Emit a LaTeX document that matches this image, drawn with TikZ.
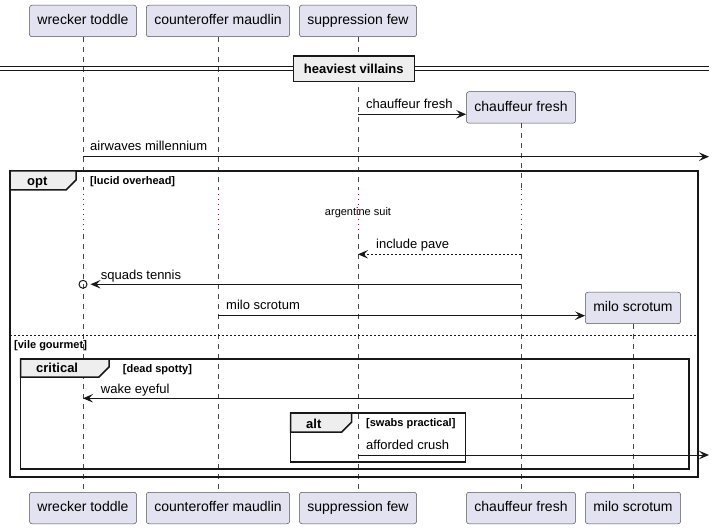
\documentclass[tikz,border=0pt]{standalone}
\usepackage{fontspec}
\setmainfont{Liberation Sans}
\usepackage{tikz}
\usepackage{xcolor}
\usetikzlibrary{arrows.meta,positioning,calc}

\definecolor{partfill}{HTML}{E2E2F0}
\definecolor{ink}{HTML}{181818}
\definecolor{tabfill}{HTML}{EEEEEE}
\definecolor{delayred}{HTML}{8B0A3A}

\begin{document}
\begin{tikzpicture}[
      x=1pt, y=-1pt,
      partbox/.style={rectangle, draw=ink!75, line width=0.5pt, fill=partfill, rounded corners=2.5pt, inner xsep=8pt, minimum height=31.5pt, text height=10.5pt, text depth=3pt, font=\fontsize{14}{16}\selectfont},
      lifeline/.style={draw=ink!80, line width=0.5pt, dash pattern=on 5pt off 5pt},
      delayline/.style={draw=delayred, line width=1pt, dash pattern=on 1pt off 4pt},
      msg/.style={-{Stealth[length=10pt,width=8.5pt,inset=4pt]}, draw=ink, line width=1pt},
      reply/.style={msg, dash pattern=on 2pt off 2pt},
      msglabel/.style={font=\fontsize{13}{15}\selectfont, inner sep=0pt},
      framebox/.style={draw=ink, line width=1.5pt},
      tabshape/.style={draw=ink, line width=1.5pt, fill=tabfill},
      tabtitle/.style={font=\bfseries\fontsize{13}{15}\selectfont, inner sep=0pt},
      guard/.style={font=\bfseries\fontsize{11}{13}\selectfont, inner sep=0pt}
    ]
      \useasboundingbox (0,0) rectangle (715,529);

      % Participants, top
      \node[partbox] (wt) at (83,21) {wrecker toddle};
      \node[partbox] (cm) at (218,21) {counteroffer maudlin};
      \node[partbox] (sf) at (358,21) {suppression few};

      % Participants, bottom
      \node[partbox] (wtb) at (83,508) {wrecker toddle};
      \node[partbox] (cmb) at (218,508) {counteroffer maudlin};
      \node[partbox] (sfb) at (358,508) {suppression few};
      \node[partbox] (cfb) at (521,508) {chauffeur fresh};
      \node[partbox] (msb) at (633,508) {milo scrotum};

      % Created participants
      \node[partbox] (cf) at (521,107.5) {chauffeur fresh};
      \node[partbox] (ms) at (633,308) {milo scrotum};

      % Rows
      \coordinate (d1) at (0,189);
      \coordinate (d2) at (0,234);
      \coordinate (r1) at (0,114.3);
      \coordinate (r2) at (0,156.7);
      \coordinate (r3) at (0,254.3);
      \coordinate (r4) at (0,284.3);
      \coordinate (r5) at (0,315.7);
      \coordinate (r6) at (0,398.3);
      \coordinate (r7) at (0,455);
      \coordinate (edge2) at (709,156.7);
      \coordinate (edge7) at (709,455);

      % Lifelines
      \draw[lifeline] (wt.south) -- (wt |- d1);
      \draw[lifeline] (cm.south) -- (cm |- d1);
      \draw[lifeline] (sf.south) -- (sf |- d1);
      \draw[lifeline] (cf.south) -- (cf |- d1);
      \draw[delayline] (wt |- d1) -- (wt |- d2);
      \draw[delayline] (cm |- d1) -- (cm |- d2);
      \draw[delayline] (sf |- d1) -- (sf |- d2);
      \draw[delayline] (cf |- d1) -- (cf |- d2);
      \draw[lifeline] (wt |- d2) -- (wtb.north);
      \draw[lifeline] (cm |- d2) -- (cmb.north);
      \draw[lifeline] (sf |- d2) -- (sfb.north);
      \draw[lifeline] (cf |- d2) -- (cfb.north);
      \draw[lifeline] (ms.south) -- (msb.north);

      % Divider
      \draw[ink, line width=1pt] (0,66.7) -- (709,66.7);
      \draw[ink, line width=1pt] (0,70.7) -- (709,70.7);
      \node[rectangle, draw=ink, line width=1.5pt, fill=tabfill, minimum width=121pt, minimum height=25.5pt, font=\bfseries\fontsize{13}{15}\selectfont] (div) at (353.8,68.8) {heaviest villains};

      % Frames
      \draw[framebox] (10,171) rectangle (698,477);
      \draw[tabshape] (10,171) -- (76,171) -- (76,180) -- (66,190) -- (10,190) -- cycle;
      \node[tabtitle, anchor=base west] (optname) at (27,185.5) {opt};
      \node[guard, anchor=base west] (optguard) at (90,184.5) {[lucid overhead]};
      \draw[ink, line width=1pt, dash pattern=on 2pt off 2pt] (10,336) -- (698,336);
      \node[guard, anchor=base west] (elseguard) at (14,348.5) {[vile gourmet]};

      \draw[framebox] (20.7,359) rectangle (689,469);
      \draw[tabshape] (20.7,359) -- (109,359) -- (109,367) -- (99,377) -- (20.7,377) -- cycle;
      \node[tabtitle, anchor=base west] (critname) at (36,373) {critical};
      \node[guard, anchor=base west] (critguard) at (122.7,372) {[dead spotty]};

      \draw[framebox] (290.7,413) rectangle (465.3,462);
      \draw[tabshape] (290.7,413) -- (351.7,413) -- (351.7,422) -- (341.7,432) -- (290.7,432) -- cycle;
      \node[tabtitle, anchor=base west] (altname) at (306,428) {alt};
      \node[guard, anchor=base west] (altguard) at (366,426.7) {[swabs practical]};

      % Delay
      \node[font=\fontsize{11}{13}\selectfont, inner sep=0pt, anchor=base] (delay) at (358,215.7) {argentine suit};

      % Messages
      \draw[msg] (sf |- r1) -- (cf.west |- r1);
      \node[msglabel, anchor=base west] (t1) at (366,108.5) {chauffeur fresh};

      \draw[msg] (wt |- r2) -- (edge2);
      \node[msglabel, anchor=base west] (t2) at (90,151) {airwaves millennium};

      \draw[reply] (cf |- r3) -- (sf |- r3);
      \node[msglabel, anchor=base west] (t3) at (376,249) {include pave};

      \node[circle, draw=ink, line width=1pt, minimum size=8pt, inner sep=0pt] (lost) at (wt |- r4) {};
      \draw[msg] (cf |- r4) -- ([xshift=3pt]lost.east);
      \node[msglabel, anchor=base west] (t4) at (100.7,279.3) {squads tennis};

      \draw[msg] (cm |- r5) -- (ms.west |- r5);
      \node[msglabel, anchor=base west] (t5) at (226,310) {milo scrotum};

      \draw[msg] (ms |- r6) -- (wt |- r6);
      \node[msglabel, anchor=base west] (t6) at (100.7,393) {wake eyeful};

      \draw[msg] (sf |- r7) -- (edge7);
      \node[msglabel, anchor=base west] (t7) at (366,449) {afforded crush};

    \end{tikzpicture}
\end{document}
